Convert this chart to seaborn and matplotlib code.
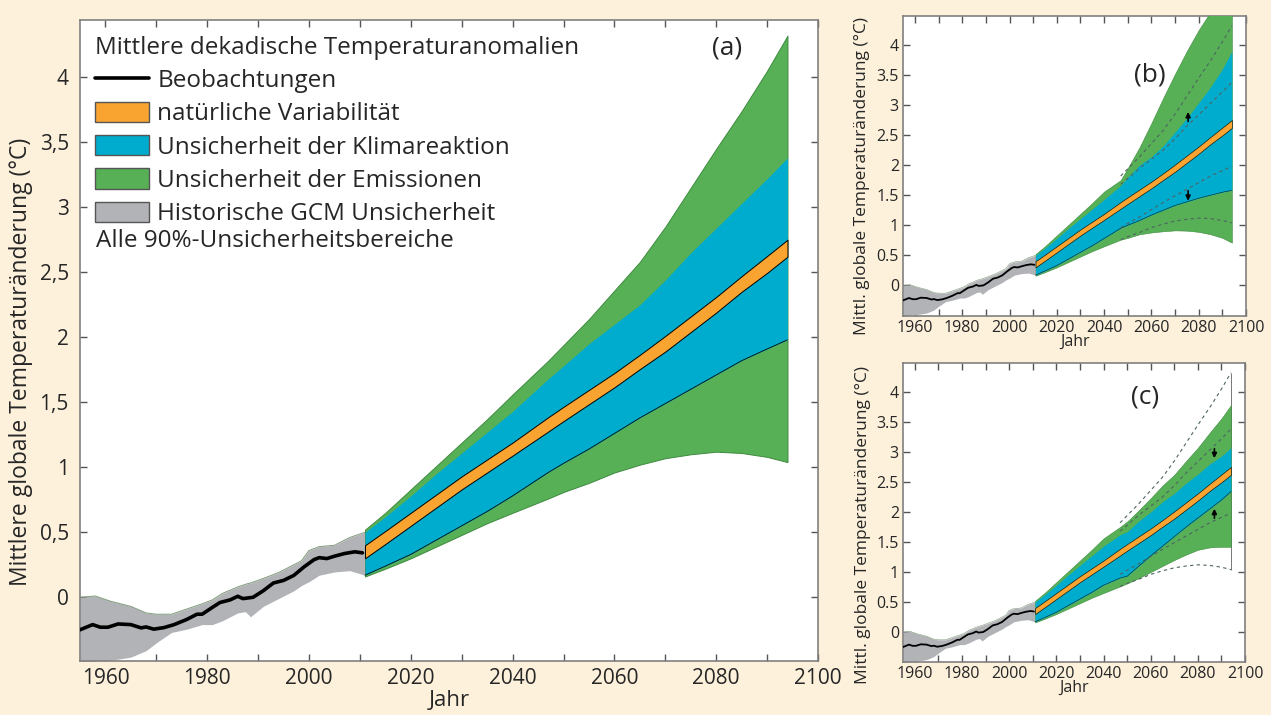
import numpy as np
import pandas as pd
import seaborn as sns
import matplotlib.pyplot as plt
from matplotlib.patches import Patch
from matplotlib.lines import Line2D

# historical GCM range and observations
hist_years = [1955, 1958, 1961, 1965, 1968, 1970, 1973, 1976, 1979, 1981, 1983, 1986,
              1987.5, 1988.5, 1991, 1994, 1997, 1998.5, 2000, 2002, 2005, 2008, 2011]
hist_hi = [0.00, 0.01, -0.03, -0.07, -0.12, -0.13, -0.13, -0.09, -0.05, -0.02, 0.03, 0.08,
           0.10, 0.11, 0.145, 0.19, 0.25, 0.28, 0.36, 0.39, 0.40, 0.46, 0.50]
hist_lo = [-0.52, -0.49, -0.485, -0.46, -0.41, -0.35, -0.27, -0.245, -0.21, -0.21, -0.18, -0.12,
           -0.11, -0.15, -0.07, -0.01, 0.05, 0.09, 0.12, 0.17, 0.195, 0.205, 0.17]

obs_years = [1955, 1957.5, 1959, 1960.5, 1962.5, 1965, 1967, 1968, 1969.5, 1971.5, 1973.5,
             1976, 1978, 1979, 1981, 1982.5, 1984.5, 1986, 1987, 1989, 1991, 1993, 1995,
             1997, 1999, 2001, 2002, 2003.5, 2005, 2007, 2009, 2010.5]
obs_vals = [-0.25, -0.21, -0.23, -0.23, -0.205, -0.21, -0.235, -0.228, -0.245, -0.233, -0.21,
            -0.17, -0.13, -0.13, -0.078, -0.04, -0.02, 0.008, -0.01, 0.0, 0.05, 0.11, 0.13,
            0.168, 0.233, 0.29, 0.305, 0.298, 0.316, 0.337, 0.35, 0.342]

# projections, panel (a)
proj_years = [2011, 2015, 2020, 2025, 2030, 2035, 2040, 2047, 2050, 2055, 2060, 2065,
              2070, 2075, 2080, 2085, 2090, 2094]
nat_lo = [0.30, 0.41, 0.55, 0.69, 0.83, 0.96, 1.09, 1.275, 1.355, 1.485, 1.615, 1.755,
          1.89, 2.04, 2.19, 2.35, 2.495, 2.62]
nat_hi = [0.40, 0.51, 0.65, 0.79, 0.93, 1.06, 1.19, 1.385, 1.465, 1.595, 1.725, 1.865,
          2.01, 2.16, 2.31, 2.47, 2.625, 2.75]
clim_lo = [0.17, 0.24, 0.33, 0.44, 0.55, 0.66, 0.78, 0.96, 1.03, 1.14, 1.26, 1.38,
           1.49, 1.60, 1.71, 1.82, 1.91, 1.98]
clim_hi = [0.50, 0.62, 0.78, 0.95, 1.11, 1.27, 1.43, 1.68, 1.78, 1.95, 2.10, 2.25,
           2.44, 2.65, 2.84, 3.03, 3.22, 3.38]
emis_lo = [0.16, 0.22, 0.30, 0.39, 0.48, 0.57, 0.65, 0.76, 0.81, 0.88, 0.96, 1.02,
           1.07, 1.10, 1.12, 1.11, 1.08, 1.04]
emis_hi = [0.52, 0.65, 0.83, 1.01, 1.19, 1.37, 1.56, 1.82, 1.94, 2.14, 2.36, 2.58,
           2.85, 3.15, 3.45, 3.74, 4.05, 4.32]

# panels (b) and (c) depart from (a) after 2047 (first 7 years shared)
n_shared = 7
b_emis_hi = [1.75, 1.95, 2.30, 2.70, 3.12, 3.52, 3.90, 4.25, 4.55, 4.85, 5.10]
b_clim_hi = [1.66, 1.80, 2.00, 2.14, 2.32, 2.55, 2.78, 3.04, 3.30, 3.60, 3.89]
b_clim_lo = [0.95, 1.00, 1.08, 1.17, 1.25, 1.33, 1.39, 1.45, 1.50, 1.55, 1.58]
b_emis_lo = [0.76, 0.79, 0.85, 0.88, 0.90, 0.915, 0.91, 0.89, 0.85, 0.79, 0.71]
c_emis_hi = [1.75, 1.84, 2.03, 2.23, 2.44, 2.62, 2.85, 3.07, 3.32, 3.56, 3.78]
c_clim_hi = [1.62, 1.67, 1.85, 2.00, 2.17, 2.31, 2.48, 2.63, 2.80, 2.93, 3.07]
c_clim_lo = [0.90, 0.93, 1.10, 1.27, 1.43, 1.59, 1.75, 1.90, 2.05, 2.20, 2.34]
c_emis_lo = [0.76, 0.81, 0.90, 1.00, 1.10, 1.20, 1.29, 1.37, 1.41, 1.42, 1.42]

y_ticks = [0, 0.5, 1, 1.5, 2, 2.5, 3, 3.5, 4]
a_ylabels = ['0', '0,5', '1', '1,5', '2', '2,5', '3', '3,5', '4']
bc_ylabels = ['0', '0.5', '1', '1.5', '2', '2.5', '3', '3.5', '4']

ORANGE = '#F9A331'
BLUE = '#00ACCD'
GREEN = '#57B055'
GRAY = '#B1B3B7'
BG = '#FDF1DC'

sns.set_style('ticks')
plt.rcParams['font.family'] = ['Open Sans', 'DejaVu Sans']

fig = plt.figure(figsize=(12.71, 7.15), dpi=100, facecolor=BG)
ax_a = fig.add_axes([0.0629, 0.0755, 0.5807, 0.8965])
ax_b = fig.add_axes([0.7105, 0.558, 0.2699, 0.4196])
ax_c = fig.add_axes([0.7105, 0.0741, 0.2691, 0.418])


def draw_panel(ax, e_lo, e_hi, c_lo, c_hi, lw_obs, lw_edge):
    ax.fill_between(hist_years, hist_lo, hist_hi, color=GRAY, linewidth=0, zorder=2)
    sns.lineplot(x=hist_years, y=hist_hi, ax=ax, color='#7f9a7a', linewidth=lw_edge, zorder=2)
    ax.fill_between(proj_years, e_lo, e_hi, color=GREEN, edgecolor='#3e8a40', linewidth=lw_edge, zorder=3)
    ax.fill_between(proj_years, c_lo, c_hi, color=BLUE, linewidth=0, zorder=4)
    sns.lineplot(x=proj_years, y=c_lo, ax=ax, color='black', linewidth=lw_edge * 0.8, zorder=5)
    ax.fill_between(proj_years, nat_lo, nat_hi, color=ORANGE, edgecolor='black', linewidth=lw_edge, zorder=6)
    sns.lineplot(x=obs_years, y=obs_vals, ax=ax, color='black', linewidth=lw_obs, zorder=7)


def style_axes(ax, fs, ylabels, pad_x, pad_y):
    ax.set_xlim(1955, 2100)
    ax.set_xticks(range(1960, 2101, 20))
    ax.set_xticks(range(1960, 2101, 10), minor=True)
    ax.set_yticks(y_ticks)
    ax.set_yticklabels(ylabels)
    ax.tick_params(which='both', direction='in', top=True, right=True, length=5,
                   width=1, color='#555555', labelsize=fs)
    ax.tick_params(axis='x', pad=pad_x)
    ax.tick_params(axis='y', pad=pad_y)
    for s in ax.spines.values():
        s.set_color('#808080')
        s.set_linewidth(1.2)
    ax.set_facecolor('white')


def arrow(ax, year, y0, y1):
    ax.annotate('', xy=(year, y1), xytext=(year, y0),
                arrowprops=dict(arrowstyle='-|>', color='black', lw=1.2, mutation_scale=7), zorder=9)


# panel (a)
draw_panel(ax_a, emis_lo, emis_hi, clim_lo, clim_hi, 2.6, 0.7)
style_axes(ax_a, 15, a_ylabels, 5, 8)
ax_a.set_ylim(-0.49, 4.44)
ax_a.set_xlabel('Jahr', fontsize=16, labelpad=1)
ax_a.set_ylabel('Mittlere globale Temperaturänderung (°C)', fontsize=16.5)
ax_a.yaxis.set_label_coords(-0.063, 0.466)
ax_a.text(0.877, 0.956, '(a)', transform=ax_a.transAxes, fontsize=19, ha='center', va='center')

handles = [Line2D([], [], color='black', linewidth=2.6),
           Patch(facecolor=ORANGE, edgecolor='#555555'),
           Patch(facecolor=BLUE, edgecolor='#555555'),
           Patch(facecolor=GREEN, edgecolor='#555555'),
           Patch(facecolor=GRAY, edgecolor='#555555')]
labels = ['Beobachtungen', 'natürliche Variabilität', 'Unsicherheit der Klimareaktion',
          'Unsicherheit der Emissionen', 'Historische GCM Unsicherheit']
leg = ax_a.legend(handles, labels, title='Mittlere dekadische Temperaturanomalien',
                  loc='upper left', bbox_to_anchor=(0.021, 0.975), frameon=False,
                  fontsize=17.5, title_fontsize=17.5, borderpad=0, borderaxespad=0,
                  handlelength=2.2, handleheight=0.9, handletextpad=0.35, labelspacing=0.36,
                  alignment='left')
ax_a.text(0.022, 0.655, 'Alle 90%-Unsicherheitsbereiche', transform=ax_a.transAxes,
          fontsize=17.5, ha='left', va='center')

# panel (b)
draw_panel(ax_b, emis_lo[:n_shared] + b_emis_lo, emis_hi[:n_shared] + b_emis_hi,
           clim_lo[:n_shared] + b_clim_lo, clim_hi[:n_shared] + b_clim_hi, 1.3, 0.4)
for vals in (emis_hi, clim_hi, clim_lo, emis_lo):
    ax_b.plot(proj_years[n_shared:], vals[n_shared:], color='#4f6363', linewidth=0.8,
              dashes=(3, 3), zorder=8)
arrow(ax_b, 2075.5, 2.68, 2.93)
arrow(ax_b, 2075.5, 1.62, 1.36)
style_axes(ax_b, 11.5, bc_ylabels, 3, 3)
ax_b.set_ylim(-0.51, 4.48)
ax_b.set_xlabel('Jahr', fontsize=11.5, labelpad=-2)
ax_b.set_ylabel('Mittl. globale Temperaturänderung (°C)', fontsize=12.5)
ax_b.yaxis.set_label_coords(-0.095, 0.467)
ax_b.text(0.72, 0.803, '(b)', transform=ax_b.transAxes, fontsize=19, ha='center', va='center')

# panel (c)
draw_panel(ax_c, emis_lo[:n_shared] + c_emis_lo, emis_hi[:n_shared] + c_emis_hi,
           clim_lo[:n_shared] + c_clim_lo, clim_hi[:n_shared] + c_clim_hi, 1.3, 0.4)
for vals in (emis_hi, clim_hi, clim_lo, emis_lo):
    ax_c.plot(proj_years[n_shared:], vals[n_shared:], color='#4f6363', linewidth=0.8,
              dashes=(3, 3), zorder=8)
ax_c.vlines(proj_years[-1], emis_lo[-1], emis_hi[-1], color='#777777', linewidth=0.7, zorder=1)
arrow(ax_c, 2087, 3.10, 2.85)
arrow(ax_c, 2087, 1.85, 2.10)
style_axes(ax_c, 11.5, bc_ylabels, 3, 3)
ax_c.set_ylim(-0.5, 4.48)
ax_c.set_xlabel('Jahr', fontsize=11.5, labelpad=-2)
ax_c.set_ylabel('Mittl. globale Temperaturänderung (°C)', fontsize=12.5)
ax_c.yaxis.set_label_coords(-0.095, 0.458)
ax_c.text(0.708, 0.886, '(c)', transform=ax_c.transAxes, fontsize=19, ha='center', va='center')

fig.savefig('out.png', dpi=100, facecolor=BG)
